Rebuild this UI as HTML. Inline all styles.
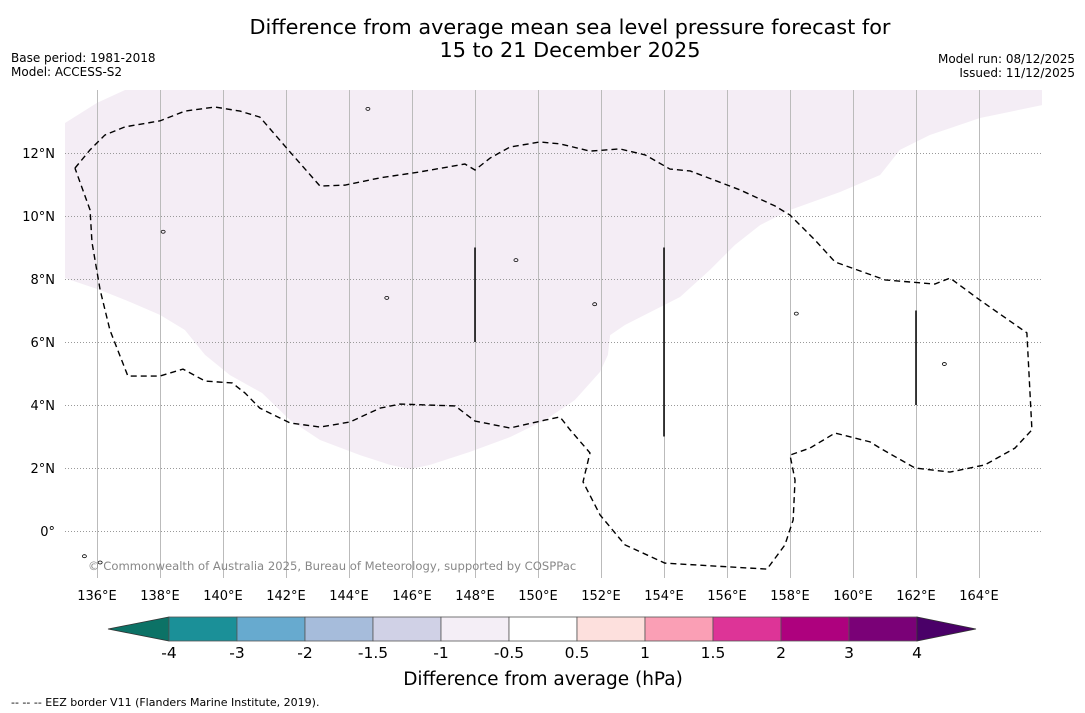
<!DOCTYPE html>
<html><head><meta charset="utf-8"><style>
body{margin:0;background:#fff;width:1085px;height:713px;overflow:hidden;font-family:"DejaVu Sans","Liberation Sans",sans-serif;}
svg{display:block}
</style></head><body>
<svg id="chart" width="1085" height="713" xmlns="http://www.w3.org/2000/svg" font-family="DejaVu Sans, Liberation Sans, sans-serif">
<text x="570" y="34" font-size="20.8" text-anchor="middle">Difference from average mean sea level pressure forecast for</text>
<text x="570" y="57" font-size="20.8" text-anchor="middle">15 to 21 December 2025</text>
<text x="11" y="62" font-size="12">Base period: 1981-2018</text>
<text x="11" y="76" font-size="12">Model: ACCESS-S2</text>
<text x="1075" y="63" font-size="12" text-anchor="end">Model run: 08/12/2025</text>
<text x="1075" y="77" font-size="12" text-anchor="end">Issued: 11/12/2025</text>
<defs><clipPath id="mapclip"><rect x="65" y="90" width="977" height="488"/></clipPath></defs>
<g id="map" clip-path="url(#mapclip)"></g>
<g id="axes"></g>
<text x="88" y="570" font-size="11.6" fill="#888">© Commonwealth of Australia 2025, Bureau of Meteorology, supported by COSPPac</text>
<g id="cbar"></g>
<text x="543" y="685" font-size="18.5" text-anchor="middle">Difference from average (hPa)</text>
<text x="11" y="706" font-size="11">--  --  -- EEZ border V11 (Flanders Marine Institute, 2019).</text>
</svg>
<script>
const lonTicks=[136,138,140,142,144,146,148,150,152,154,156,158,160,162,164];
const latTicks=[0,2,4,6,8,10,12];
const shadeLon=[134.98,136.0,136.89,166.0,166.0,164.03,162.44,161.49,160.86,159.59,158.0,157.05,156.25,155.46,154.51,152.76,152.29,152.22,151.97,151.17,150.22,149.11,147.84,146.57,145.94,145.30,144.35,143.08,142.13,141.24,140.22,139.43,138.79,138.0,137.05,136.10,134.98];
const shadeLat=[12.95,13.59,14.0,14.0,13.52,13.11,12.57,12.10,11.30,10.76,10.19,9.71,9.08,8.29,7.43,6.54,6.22,5.59,5.05,4.16,3.52,2.98,2.51,2.10,1.97,2.10,2.41,2.89,3.52,4.38,4.95,5.59,6.38,6.86,7.27,7.65,8.03];
const eezLon=[135.30,135.78,136.25,136.89,138.0,138.79,139.75,140.54,141.17,142.13,143.08,143.87,144.98,146.25,147.68,148.0,148.48,149.11,150.06,150.70,151.65,152.60,153.40,154.19,154.83,156.41,157.52,158.0,158.79,159.43,161.02,162.60,163.08,164.03,165.52,165.68,165.14,164.19,163.08,161.97,160.86,160.54,159.43,158.63,158.0,158.16,158.10,157.84,157.27,154.03,152.76,151.97,151.43,151.65,151.02,150.70,150.22,149.11,148.0,147.37,145.62,144.98,144.03,143.08,142.13,141.17,140.70,140.29,139.43,138.73,138.0,136.98,136.41,136.10,135.84,135.78,135.30];
const eezLat=[11.52,12.10,12.57,12.83,13.02,13.33,13.46,13.33,13.14,12.03,10.95,10.98,11.21,11.40,11.65,11.46,11.84,12.19,12.35,12.29,12.06,12.13,11.94,11.49,11.43,10.83,10.32,10.03,9.24,8.54,7.97,7.84,8.03,7.33,6.29,3.21,2.63,2.10,1.87,2.0,2.63,2.83,3.11,2.63,2.41,1.62,0.35,-0.44,-1.21,-1.02,-0.44,0.51,1.56,2.48,3.21,3.62,3.52,3.27,3.49,3.97,4.03,3.90,3.46,3.30,3.43,3.90,4.38,4.70,4.76,5.14,4.92,4.92,6.38,7.65,9.17,10.19,11.52];
const segLon=[148,154,162];
const segLat0=[6,3,4];
const segLat1=[9,9,7];
const islandLon=[138.1,149.3,151.8,158.2,162.9,144.6,145.2,135.6,136.1];
const islandLat=[9.5,8.6,7.2,6.9,5.3,13.4,7.4,-0.8,-1.0];
const cbLevels=['-4','-3','-2','-1.5','-1','-0.5','0.5','1','1.5','2','3','4'];
const cbColors=['#1b9098','#67aacf','#a6bcdb','#d0d1e6','#f4eef6','#ffffff','#fde0dd','#fa9fb5','#dd3497','#ae017e','#7a0177'];
const cbLow='#0c7266', cbHigh='#4a0068';

const NS='http://www.w3.org/2000/svg';
const X=lon=>97+(lon-136)*31.5;
const Y=lat=>531-lat*31.5;
function mk(tag,attrs,parent){const e=document.createElementNS(NS,tag);for(const k in attrs)e.setAttribute(k,attrs[k]);parent.appendChild(e);return e;}
const map=document.getElementById('map'),axes=document.getElementById('axes'),cb=document.getElementById('cbar');

const sh=mk('polygon',{points:shadeLon.map((l,i)=>X(l)+','+Y(shadeLat[i])).join(' '),fill:'#f4edf5'},map);


lonTicks.forEach(l=>{
 const xx=Math.round(X(l))+0.5;
 const g=mk('line',{x1:xx,x2:xx,y1:90,y2:578,stroke:'#bbb','stroke-width':1,'shape-rendering':'crispEdges'},map);
 
 
 const t=mk('text',{x:X(l),y:600,'font-size':13,'text-anchor':'middle'},axes);t.textContent=l+'°E';
 
 
});
latTicks.forEach(l=>{
 const yy=Math.round(Y(l))+0.5;
 const g=mk('line',{x1:65,x2:1042,y1:yy,y2:yy,stroke:'#999','stroke-width':1,'stroke-dasharray':'1,2','shape-rendering':'crispEdges'},map);
 
 
 const t=mk('text',{x:55,y:Y(l)+5,'font-size':13,'text-anchor':'end'},axes);t.textContent=l===0?'0°':l+'°N';
 
 
});
const ez=mk('polyline',{points:eezLon.map((l,i)=>X(l)+','+Y(eezLat[i])).join(' '),fill:'none',stroke:'#000','stroke-width':1.4,'stroke-dasharray':'6,4'},map);


segLon.forEach((l,i)=>{
 const s=mk('line',{x1:X(l),x2:X(l),y1:Y(segLat0[i]),y2:Y(segLat1[i]),stroke:'#000','stroke-width':1.5},map);
 
 
});
islandLon.forEach((l,i)=>{
 const c=mk('ellipse',{cx:X(l),cy:Y(islandLat[i]),rx:2,ry:1.5,fill:'none',stroke:'#000','stroke-width':0.8},map);
 
 
});
const cx0=169,cw=68,cy=617,ch=24;
mk('polygon',{points:`${cx0},${cy} ${cx0},${cy+ch} 108,${cy+ch/2}`,fill:cbLow,stroke:'#333','stroke-width':0.8},cb);
cbColors.forEach((c,i)=>{
 const r=mk('rect',{x:cx0+i*cw,y:cy,width:cw,height:ch,fill:c,stroke:'#555','stroke-width':0.8},cb);
 
 
});
const xe=cx0+cbColors.length*cw;
mk('polygon',{points:`${xe},${cy} ${xe},${cy+ch} 976,${cy+ch/2}`,fill:cbHigh,stroke:'#333','stroke-width':0.8},cb);
cbLevels.forEach((v,i)=>{
 const t=mk('text',{x:cx0+i*cw,y:658,'font-size':15.5,'text-anchor':'middle'},cb);t.textContent=v;
 
 
});
</script>
</body></html>
